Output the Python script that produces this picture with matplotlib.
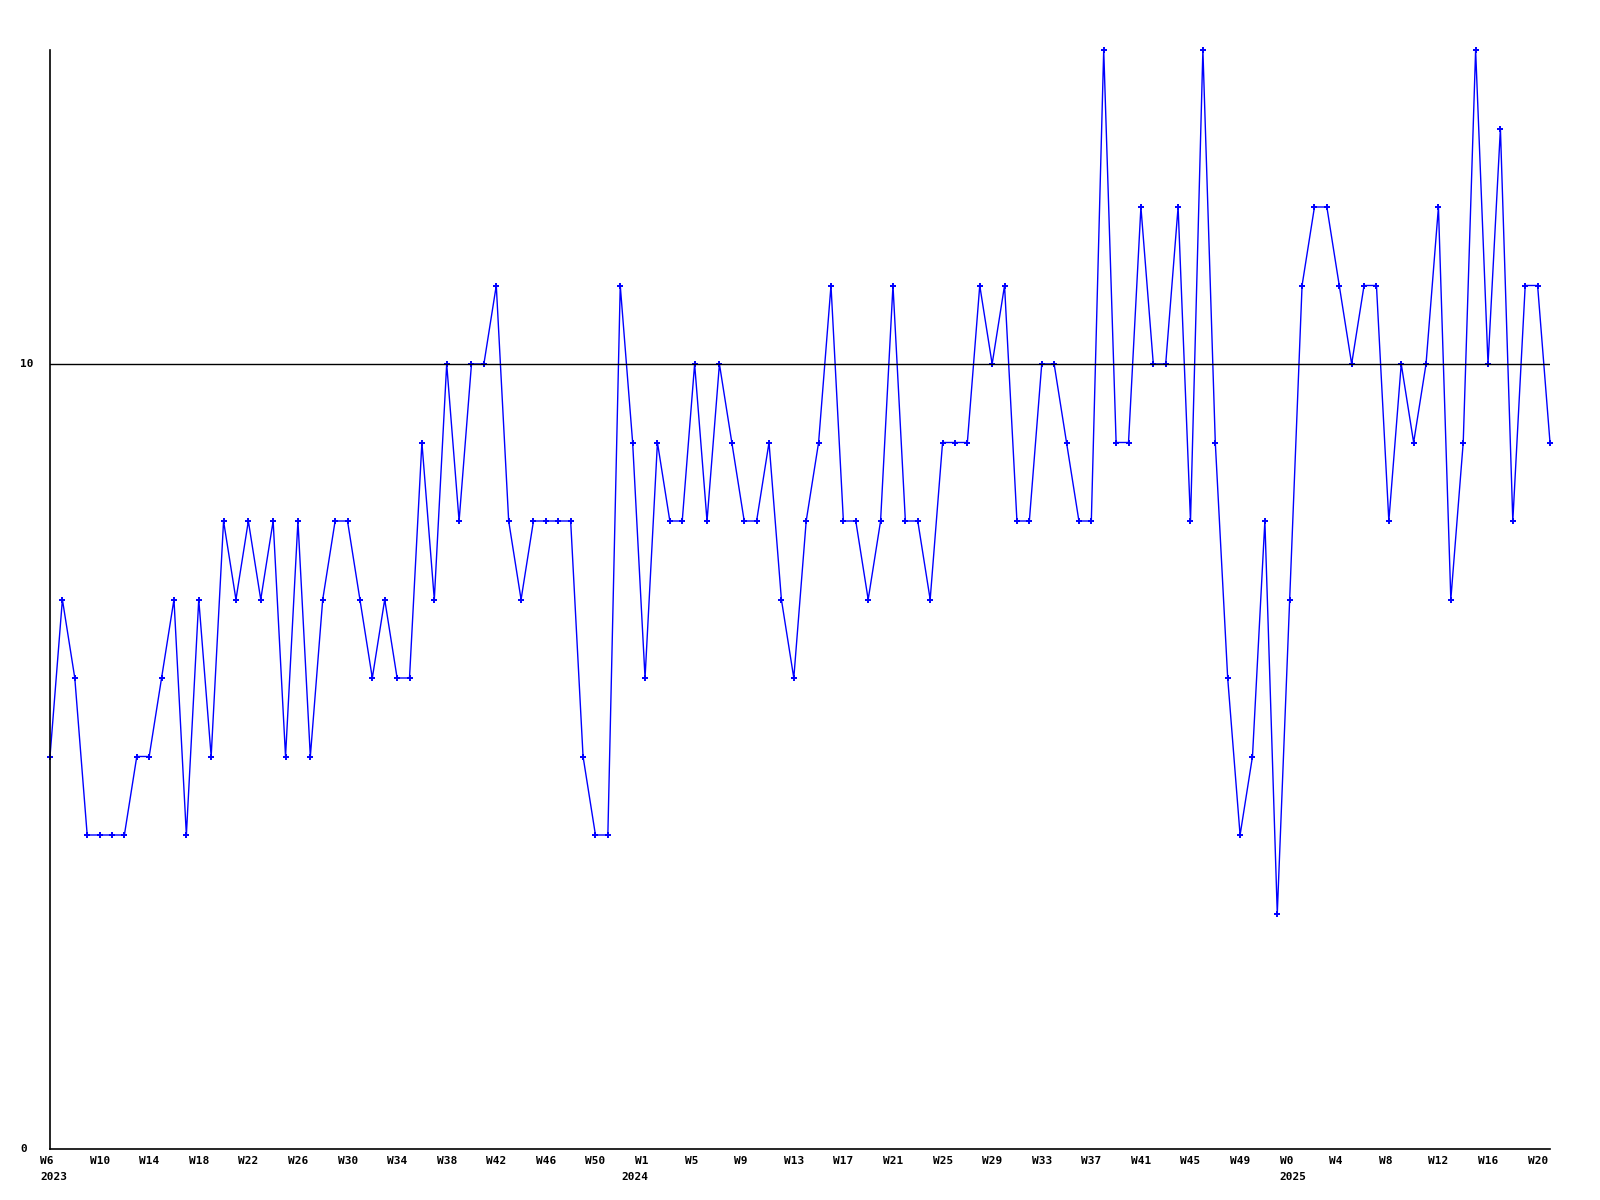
import matplotlib
matplotlib.use("Agg")
import matplotlib.pyplot as plt
import matplotlib.transforms as mtransforms

# weekly values, W6 2023 .. W21 2025
values = [5, 7, 6, 4, 4, 4, 4, 5, 5, 6, 7, 4, 7, 5, 8, 7, 8, 7, 8, 5,
          8, 5, 7, 8, 8, 7, 6, 7, 6, 6, 9, 7, 10, 8, 10, 10, 11, 8, 7, 8,
          8, 8, 8, 5, 4, 4, 11, 9, 6, 9, 8, 8, 10, 8, 10, 9, 8, 8, 9, 7,
          6, 8, 9, 11, 8, 8, 7, 8, 11, 8, 8, 7, 9, 9, 9, 11, 10, 11, 8, 8,
          10, 10, 9, 8, 8, 14, 9, 9, 12, 10, 10, 12, 8, 14, 9, 6, 4, 5, 8, 3,
          7, 11, 12, 12, 11, 10, 11, 11, 8, 10, 9, 10, 12, 7, 9, 14, 10, 13, 8, 11,
          11, 9]

week_labels = ['W6', 'W10', 'W14', 'W18', 'W22', 'W26', 'W30', 'W34', 'W38',
               'W42', 'W46', 'W50', 'W1', 'W5', 'W9', 'W13', 'W17', 'W21',
               'W25', 'W29', 'W33', 'W37', 'W41', 'W45', 'W49', 'W0', 'W4',
               'W8', 'W12', 'W16', 'W20']
# year label -> index of the week label it sits under, extra x shift in px
years = ['2023', '2024', '2025']
year_at = [0, 12, 25]
year_dx = [-10, -24, -10]

y_ticks = [0, 10]

FONT = dict(family='DejaVu Sans Mono', weight='bold', size=8)

fig = plt.figure(figsize=(16, 12), dpi=100)
ax = fig.add_axes([50 / 1600, 1 - 1149 / 1200, 1500 / 1600, 1099 / 1200])

x = list(range(len(values)))
ax.plot(x, values, color='#0000ff', linewidth=1.0, marker='+',
        markersize=4.5, markeredgewidth=1.4, clip_on=False)
ax.axhline(10, color='black', linewidth=1)

ax.set_xlim(0, len(values) - 1)
ax.set_ylim(0, 14)

for side in ['top', 'right']:
    ax.spines[side].set_visible(False)
for side in ['left', 'bottom']:
    ax.spines[side].set_linewidth(1.2)

# y labels, left aligned at x=20px
ax.set_yticks(y_ticks)
ax.set_yticklabels([])
ax.tick_params(axis='y', length=0)
ytrans = mtransforms.blended_transform_factory(fig.transFigure, ax.transData)
for v in y_ticks:
    ax.text(20 / 1600, v, str(v), transform=ytrans, ha='left', va='center',
            **FONT)

ticks = list(range(0, len(values), 4))
ax.set_xticks(ticks)
ax.set_xticklabels(week_labels, fontdict=FONT, ha='left')
ax.tick_params(axis='x', length=0, pad=5)
shift = mtransforms.ScaledTranslation(-10 / 100, 0, fig.dpi_scale_trans)
for lab in ax.get_xticklabels():
    lab.set_transform(lab.get_transform() + shift)

xtrans = mtransforms.blended_transform_factory(ax.transData, fig.transFigure)
for yr, k, dx in zip(years, year_at, year_dx):
    off = mtransforms.ScaledTranslation(dx / 100, 0, fig.dpi_scale_trans)
    ax.text(ticks[k], 1 - 1177 / 1200, yr, transform=xtrans + off,
            ha='left', va='center', **FONT)

fig.savefig('out.png', dpi=100)
